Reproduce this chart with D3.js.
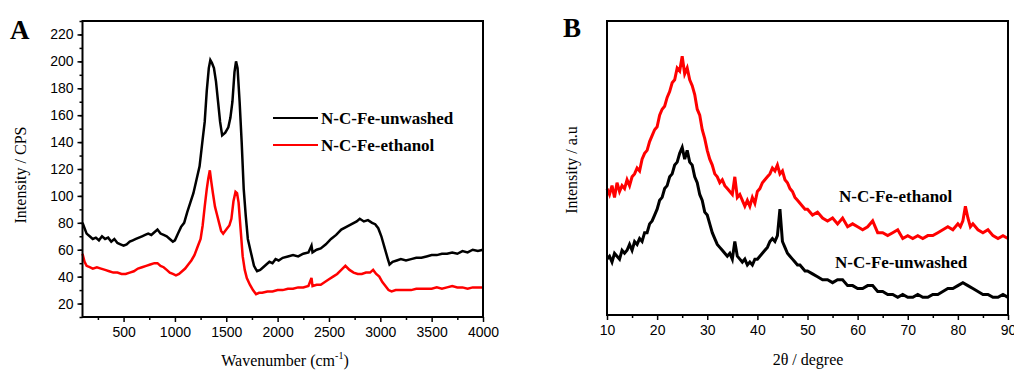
<!DOCTYPE html>
<html>
<head>
<meta charset="utf-8">
<script src="https://cdn.jsdelivr.net/npm/d3@7"></script>
<style>
  body { margin: 0; background: #fff; }
  svg { display: block; }
  .tick text { font-family: "Liberation Sans", Arial, sans-serif; font-size: 14px; fill: #000; }
  .tick line { stroke: #000; stroke-width: 1.5; }
</style>
</head>
<body>
<svg id="canvas" width="1014" height="371"></svg>
<script>
// panel A - Raman
let ramanUnwashed = [
    [100,80],[120,76],[140,72],[170,70],[200,68],[230,69],[260,67],[290,70],[320,68],[350,69],[380,66],[410,68],
    [440,65],[470,64],[500,63],[530,64],[560,66],[590,67],[620,68],[650,69],[680,70],[710,71],[740,72],[770,71],
    [800,73],[830,75],[860,72],[890,71],[920,70],[950,68],[980,66],[1000,67],[1030,72],[1060,77],[1090,80],
    [1120,88],[1150,95],[1180,102],[1210,112],[1240,122],[1270,142],[1290,155],[1310,178],[1330,195],[1345,201],
    [1360,199],[1380,195],[1400,185],[1420,170],[1440,155],[1460,145],[1490,147],[1520,151],[1540,158],[1560,170],
    [1580,192],[1595,200],[1610,195],[1630,170],[1650,140],[1670,105],[1690,85],[1710,68],[1740,58],[1770,48],
    [1800,44],[1830,45],[1860,47],[1890,49],[1920,51],[1950,50],[1980,53],[2010,52],[2050,54],[2100,55],[2150,56],
    [2200,55],[2250,57],[2300,58],[2330,63],[2340,58],[2380,60],[2420,61],[2470,64],[2520,68],[2570,71],[2620,75],
    [2670,77],[2720,79],[2770,81],[2800,83],[2840,81],[2880,82],[2920,80],[2950,79],[2980,76],[3010,70],[3040,62],
    [3070,54],[3090,49],[3120,51],[3160,52],[3200,53],[3250,52],[3300,53],[3350,54],[3400,54],[3450,55],[3500,56],
    [3550,56],[3600,57],[3650,57],[3700,58],[3750,57],[3800,59],[3850,58],[3900,60],[3950,59],[4000,60]
]
let ramanEthanol = [
    [100,57],[120,51],[140,48],[170,47],[200,46],[240,47],[280,46],[320,45],[360,44],[400,43],[440,43],[480,42],
    [520,42],[560,43],[600,44],[640,46],[680,47],[720,48],[760,49],[800,50],[830,50],[860,48],[890,47],[920,45],
    [950,43],[980,42],[1010,41],[1040,42],[1070,44],[1100,46],[1130,49],[1160,52],[1190,56],[1220,62],[1250,68],
    [1270,78],[1290,92],[1310,105],[1325,113],[1340,119],[1355,110],[1370,102],[1390,92],[1410,86],[1430,80],
    [1450,74],[1470,72],[1500,75],[1530,78],[1550,83],[1570,96],[1590,103],[1605,102],[1620,95],[1640,75],[1660,55],
    [1680,45],[1700,39],[1730,34],[1760,30],[1790,27],[1820,28],[1850,28],[1900,29],[1950,29],[2000,30],[2050,30],
    [2100,31],[2150,31],[2200,32],[2250,32],[2300,33],[2330,39],[2340,33],[2380,34],[2420,34],[2460,36],[2500,38],
    [2540,40],[2580,42],[2620,45],[2660,48],[2700,45],[2740,43],[2780,42],[2820,42],[2860,43],[2900,43],[2930,45],
    [2960,42],[2990,40],[3020,36],[3050,33],[3080,30],[3110,29],[3150,30],[3200,30],[3250,30],[3300,30],[3350,31],
    [3400,31],[3450,31],[3500,31],[3550,32],[3600,31],[3650,32],[3700,33],[3750,32],[3800,32],[3850,31],[3900,32],
    [3950,32],[4000,32]
]
let ramanXTicks = [500, 1000, 1500, 2000, 2500, 3000, 3500, 4000]
let ramanYTicks = [20, 40, 60, 80, 100, 120, 140, 160, 180, 200, 220]

// panel B - XRD (a.u.)
let xrdEthanol = [
    [10,43],[10.5,41],[11,44],[11.5,40],[12,45],[12.5,42],[13,44],[13.5,43],[14,46],[14.5,44],[15,47],[15.5,48],
    [16,50],[16.5,49],[17,53],[17.5,55],[18,56],[18.5,59],[19,61],[19.5,63],[20,64],[20.5,68],[21,70],[21.5,71],
    [22,74],[22.5,76],[23,79],[23.5,80],[24,84],[24.5,83],[25,88],[25.5,82],[26,84],[26.5,80],[27,78],[27.5,75],
    [28,70],[28.5,68],[29,63],[29.5,60],[30,56],[30.5,53],[31,51],[31.5,48],[32,47],[32.5,45],[33,46],[33.5,44],
    [34,43],[34.5,42],[35,41],[35.5,47],[36,40],[36.5,41],[37,39],[37.5,37],[38,39],[38.5,37],[39,40],[39.5,38],
    [40,42],[40.5,43],[41,45],[41.5,46],[42,47],[42.5,48],[43,50],[43.5,49],[44,51],[44.5,48],[45,49],[45.5,46],
    [46,45],[46.5,43],[47,42],[47.5,40],[48,39],[48.5,38],[49,37],[49.5,36],[50,36],[51,34],[52,35],[53,33],
    [54,32],[55,33],[56,31],[57,33],[58,30],[59,31],[60,30],[61,29],[62,30],[63,32],[64,28],[65,28],[66,27],
    [67,28],[68,29],[69,26],[70,27],[71,26],[72,27],[73,26],[74,27],[75,27],[76,28],[77,29],[78,30],[79,29],
    [80,31],[80.5,30],[81,32],[81.5,37],[82,33],[82.5,30],[83,31],[84,29],[85,28],[86,29],[87,27],[88,26],
    [89,27],[90,26]
]
let xrdUnwashed = [
    [10,19],[10.5,20],[11,18],[11.5,21],[12,20],[12.5,19],[13,22],[13.5,21],[14,22],[14.5,24],[15,22],[15.5,25],
    [16,24],[16.5,26],[17,25],[17.5,28],[18,28],[18.5,31],[19,32],[19.5,34],[20,36],[20.5,39],[21,40],[21.5,43],
    [22,44],[22.5,47],[23,48],[23.5,51],[24,52],[24.5,55],[25,57],[25.5,53],[26,56],[26.5,52],[27,51],[27.5,47],
    [28,45],[28.5,41],[29,39],[29.5,35],[30,34],[30.5,31],[31,28],[31.5,26],[32,24],[32.5,23],[33,22],[33.5,21],
    [34,20],[34.5,21],[35,19],[35.5,25],[36,20],[36.5,19],[37,18],[37.5,19],[38,17],[38.5,18],[39,17],[39.5,19],
    [40,19],[40.5,20],[41,21],[41.5,22],[42,23],[42.5,25],[43,26],[43.5,25],[44,27],[44.5,36],[45,25],[45.5,23],
    [46,21],[46.5,20],[47,19],[47.5,18],[48,17],[48.5,17],[49,16],[49.5,15],[50,15],[51,14],[52,13],[53,12],
    [54,12],[55,11],[56,12],[57,12],[58,10],[59,10],[60,9],[61,9],[62,10],[63,10],[64,8],[65,8],[66,7],[67,7],
    [68,6],[69,7],[70,6],[71,6],[72,7],[73,6],[74,6],[75,7],[76,7],[77,8],[78,9],[79,9],[80,10],[81,11],[82,10],
    [83,9],[84,8],[85,7],[86,7],[87,6],[88,6],[89,7],[90,6]
]
let xrdXTicks = [10, 20, 30, 40, 50, 60, 70, 80, 90]

let serif = '"Liberation Serif", "Times New Roman", serif'
let canvas = d3.select('#canvas')

canvas.append('rect').attr('width', 1014).attr('height', 371).attr('fill', '#fff')

// ---------- A ----------
let xA = d3.scaleLinear().domain([100, 4000]).range([82.5, 483])
let yA = d3.scaleLinear().domain([10, 230]).range([317, 21])

let gA = canvas.append('g')

gA.append('g')
    .attr('transform', 'translate(0,317)')
    .call(d3.axisBottom(xA).tickValues(d3.range(250, 4000, 500)).tickSize(3).tickFormat(''))
    .call(g => g.select('.domain').remove())
gA.append('g')
    .attr('transform', 'translate(0,317)')
    .call(d3.axisBottom(xA).tickValues(ramanXTicks).tickSize(5).tickPadding(5).tickFormat(d3.format('d')))
    .call(g => g.select('.domain').remove())
gA.append('g')
    .attr('transform', 'translate(82.5,0)')
    .call(d3.axisLeft(yA).tickValues(d3.range(10, 231, 10)).tickSize(3).tickFormat(''))
    .call(g => g.select('.domain').remove())
gA.append('g')
    .attr('transform', 'translate(82.5,0)')
    .call(d3.axisLeft(yA).tickValues(ramanYTicks).tickSize(5).tickPadding(4).tickFormat(d3.format('d')))
    .call(g => g.select('.domain').remove())

let lineA = d3.line().x(d => xA(d[0])).y(d => yA(d[1]))

gA.append('path').datum(ramanUnwashed)
    .attr('d', lineA).attr('fill', 'none').attr('stroke', '#000').attr('stroke-width', 2.5)
gA.append('path').datum(ramanEthanol)
    .attr('d', lineA).attr('fill', 'none').attr('stroke', '#ff0000').attr('stroke-width', 2.5)

gA.append('rect')
    .attr('x', 82.5).attr('y', 21).attr('width', 483 - 82.5).attr('height', 317 - 21)
    .attr('fill', 'none').attr('stroke', '#000').attr('stroke-width', 2)

// legend
let legendA = [['N-C-Fe-unwashed', '#000', 118], ['N-C-Fe-ethanol', '#ff0000', 145]]
legendA.forEach(item => {
    gA.append('line')
        .attr('x1', 273).attr('x2', 318).attr('y1', item[2]).attr('y2', item[2])
        .attr('stroke', item[1]).attr('stroke-width', 2)
    gA.append('text')
        .attr('x', 321).attr('y', item[2] + 6)
        .style('font-family', serif).style('font-weight', 'bold').style('font-size', '17px')
        .text(item[0])
})

gA.append('text').attr('x', 10).attr('y', 39)
    .style('font-family', serif).style('font-weight', 'bold').style('font-size', '27px')
    .text('A')

gA.append('text')
    .attr('transform', 'translate(26,175) rotate(-90)')
    .attr('text-anchor', 'middle')
    .style('font-family', serif).style('font-size', '16px')
    .text('Intensity / CPS')

let xLabA = gA.append('text')
    .attr('x', 285).attr('y', 366)
    .attr('text-anchor', 'middle')
    .style('font-family', serif).style('font-size', '16px')
xLabA.append('tspan').text('Wavenumber (cm')
xLabA.append('tspan').attr('dy', -7).style('font-size', '10px').text('-1')
xLabA.append('tspan').attr('dy', 7).text(')')

// ---------- B ----------
let xB = d3.scaleLinear().domain([10, 90]).range([607, 1008])
let yB = d3.scaleLinear().domain([0, 100]).range([315, 21])

let gB = canvas.append('g')

gB.append('g')
    .attr('transform', 'translate(0,315)')
    .call(d3.axisBottom(xB).tickValues(d3.range(15, 90, 10)).tickSize(3).tickFormat(''))
    .call(g => g.select('.domain').remove())
gB.append('g')
    .attr('transform', 'translate(0,315)')
    .call(d3.axisBottom(xB).tickValues(xrdXTicks).tickSize(5).tickPadding(5).tickFormat(d3.format('d')))
    .call(g => g.select('.domain').remove())

let lineB = d3.line().x(d => xB(d[0])).y(d => yB(d[1]))

gB.append('path').datum(xrdEthanol)
    .attr('d', lineB).attr('fill', 'none').attr('stroke', '#ff0000').attr('stroke-width', 3)
gB.append('path').datum(xrdUnwashed)
    .attr('d', lineB).attr('fill', 'none').attr('stroke', '#000').attr('stroke-width', 3)

gB.append('rect')
    .attr('x', 607).attr('y', 21).attr('width', 1008 - 607).attr('height', 315 - 21)
    .attr('fill', 'none').attr('stroke', '#000').attr('stroke-width', 2)

gB.append('text').attr('x', 839).attr('y', 202)
    .style('font-family', serif).style('font-weight', 'bold').style('font-size', '17px')
    .text('N-C-Fe-ethanol')
gB.append('text').attr('x', 835).attr('y', 268)
    .style('font-family', serif).style('font-weight', 'bold').style('font-size', '17px')
    .text('N-C-Fe-unwashed')

gB.append('text').attr('x', 563).attr('y', 37)
    .style('font-family', serif).style('font-weight', 'bold').style('font-size', '27px')
    .text('B')

gB.append('text')
    .attr('transform', 'translate(577,170) rotate(-90)')
    .attr('text-anchor', 'middle')
    .style('font-family', serif).style('font-size', '16px')
    .text('Intensity / a.u')

gB.append('text')
    .attr('x', 808).attr('y', 365)
    .attr('text-anchor', 'middle')
    .style('font-family', serif).style('font-size', '16px')
    .text('2θ / degree')
</script>
</body>
</html>
